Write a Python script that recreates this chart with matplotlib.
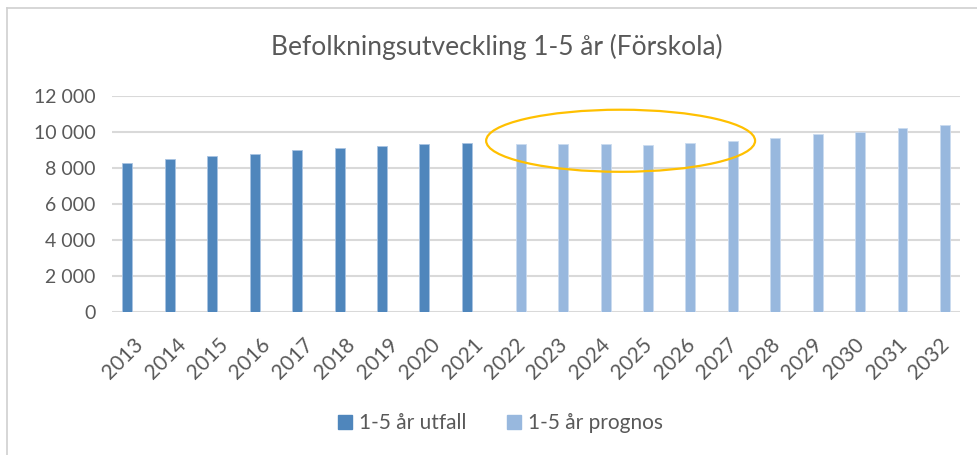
import matplotlib
matplotlib.use("Agg")
import matplotlib.pyplot as plt
from matplotlib.patches import Ellipse
from matplotlib.lines import Line2D
from matplotlib.ticker import FuncFormatter
import numpy as np

years = [str(y) for y in range(2013, 2033)]
utfall_years = ["2013", "2014", "2015", "2016", "2017", "2018", "2019", "2020", "2021"]
utfall = [8290, 8500, 8670, 8790, 9000, 9110, 9200, 9310, 9390]
prognos_years = ["2022", "2023", "2024", "2025", "2026", "2027", "2028", "2029", "2030", "2031", "2032"]
prognos = [9350, 9350, 9310, 9290, 9390, 9530, 9680, 9870, 10030, 10220, 10370]

title = "Befolkningsutveckling 1-5 år (Förskola)"
label_utfall = "1-5 år utfall"
label_prognos = "1-5 år prognos"

c_utfall = "#4F86BC"
c_prognos = "#98B8DE"
txt = "#595959"
grid = "#D9D9D9"

plt.rcParams['font.family'] = ['Lato', 'DejaVu Sans']

fig = plt.figure(figsize=(9.77, 4.55), dpi=100)
ax = fig.add_axes([112/977, 1-312.3/455, (960.4-112)/977, (312.3-96)/455])

idx = {y: i for i, y in enumerate(years)}
xu = np.array([idx[y] for y in utfall_years])
xp = np.array([idx[y] for y in prognos_years])
w = 0.235
off = 0.135
ax.bar(xu - off, utfall, width=w, color=c_utfall, edgecolor="#A9C4E2", linewidth=0.6, zorder=3)
ax.bar(xp + off, prognos, width=w, color=c_prognos, edgecolor="#CADBF0", linewidth=0.6, zorder=3)

ax.set_xlim(-0.5, len(years) - 0.5)
ax.set_ylim(0, 12000)
ax.set_yticks(range(0, 12001, 2000))
ax.yaxis.set_major_formatter(FuncFormatter(lambda v, p: f"{int(v):,}".replace(",", " ")))
ax.set_xticks(range(len(years)))
ax.set_xticklabels(years, rotation=45, ha="right", rotation_mode="anchor")
ax.tick_params(axis="both", length=0, colors=txt, labelsize=14)
ax.tick_params(axis="x", pad=16, labelsize=15)
ax.tick_params(axis="y", pad=12)
ax.grid(axis="y", color=grid, linewidth=1.5, zorder=0)
for s in ax.spines.values():
    s.set_visible(False)

ax.add_patch(Ellipse((11.49, 9517), 6.34, 3444, fill=False, edgecolor="#FFC000", linewidth=1.6, zorder=5, clip_on=False))

fig.text(497/977, 1-47/455, title, ha="center", va="center", fontsize=19, color=txt)

handles = [Line2D([], [], marker="s", linestyle="none", markersize=10, color=c_utfall),
           Line2D([], [], marker="s", linestyle="none", markersize=10, color=c_prognos)]
fig.legend(handles, [label_utfall, label_prognos], loc="center", bbox_to_anchor=(500/977, 1-423/455),
           ncol=2, frameon=False, fontsize=15, labelcolor=txt, handletextpad=0.25, columnspacing=1.9,
           handlelength=0.8)

fig.add_artist(Line2D([7/977, 7/977], [0, 1-8/455], color="#D0D0D0", linewidth=1.2))
fig.add_artist(Line2D([7/977, 1], [1-8/455, 1-8/455], color="#D0D0D0", linewidth=1.2))

fig.savefig("out.png", dpi=100)
